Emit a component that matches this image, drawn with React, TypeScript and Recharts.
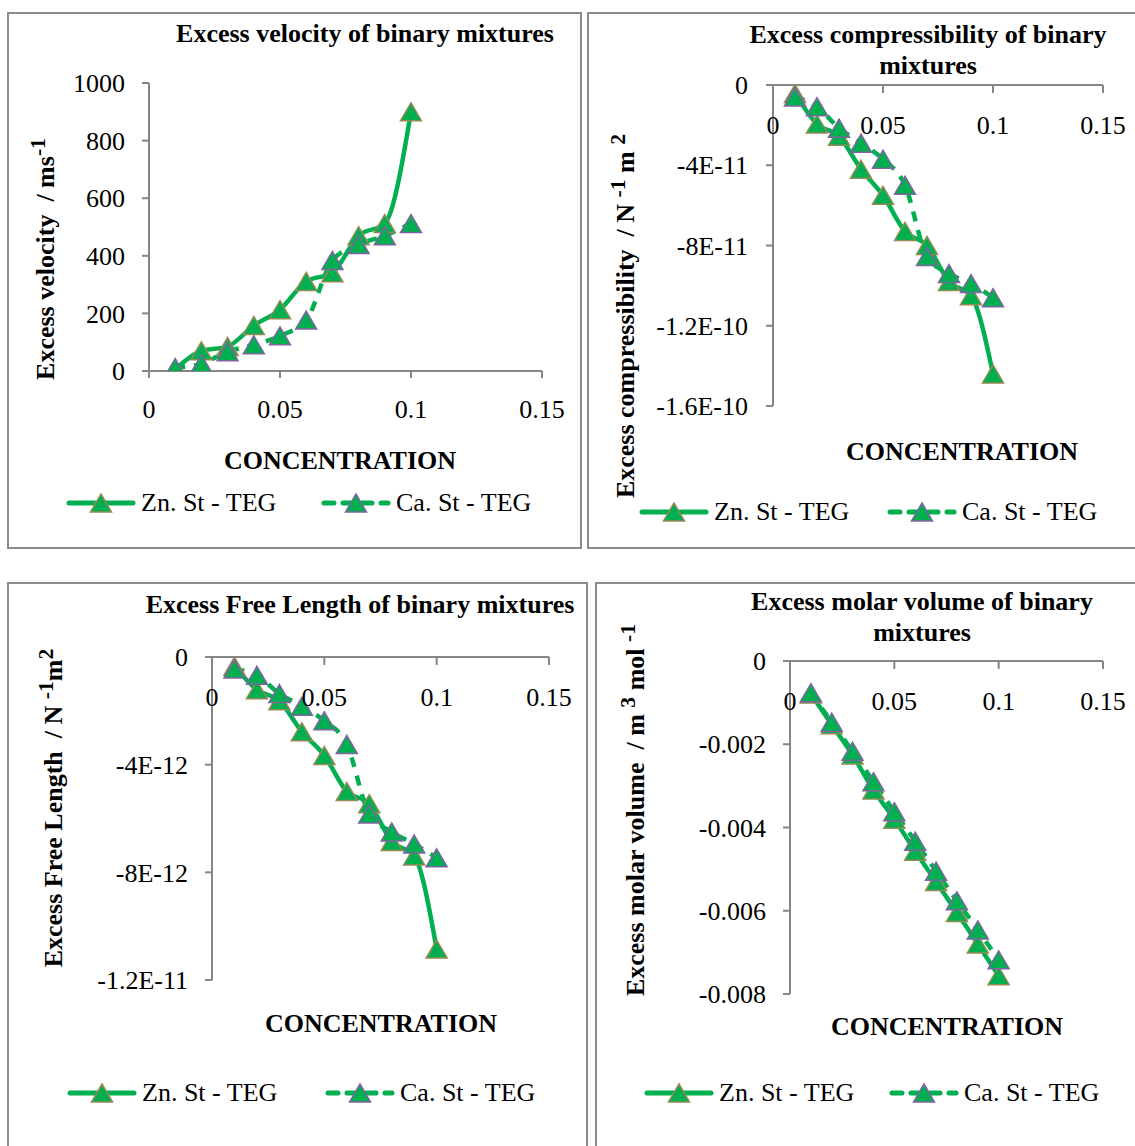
import React from 'react';
import { LineChart, Line, XAxis, YAxis } from 'recharts';

// concentration (x) shared by every panel
const concentration = [0.01, 0.02, 0.03, 0.04, 0.05, 0.06, 0.07, 0.08, 0.09, 0.1];

// excess velocity / ms-1
const velocityZn = [6, 70, 85, 158, 213, 311, 341, 470, 512, 900];
const velocityCa = [12, 25, 67, 91, 122, 177, 384, 439, 470, 512];

// excess compressibility / N-1 m2
const compressZn = [-0.42e-11, -1.95e-11, -2.55e-11, -4.2e-11, -5.5e-11, -7.3e-11, -8.0e-11, -9.8e-11, -10.5e-11, -14.4e-11];
const compressCa = [-0.6e-11, -1.08e-11, -2.15e-11, -2.9e-11, -3.7e-11, -5.0e-11, -8.55e-11, -9.4e-11, -9.9e-11, -10.6e-11];

// excess free length / N-1 m2
const freeLengthZn = [-0.34e-12, -1.22e-12, -1.63e-12, -2.78e-12, -3.66e-12, -5.0e-12, -5.45e-12, -6.85e-12, -7.39e-12, -10.85e-12];
const freeLengthCa = [-0.45e-12, -0.68e-12, -1.36e-12, -1.83e-12, -2.37e-12, -3.25e-12, -5.83e-12, -6.5e-12, -6.95e-12, -7.46e-12];

// excess molar volume / m3 mol-1
const molarZn = [-0.00079, -0.00153, -0.00226, -0.0031, -0.0038, -0.00457, -0.0053, -0.00604, -0.0068, -0.00756];
const molarCa = [-0.00076, -0.00147, -0.00217, -0.0029, -0.00362, -0.00433, -0.00505, -0.00576, -0.00646, -0.00718];

const xTicks = [0, 0.05, 0.1, 0.15];
const xTickLabels = ['0', '0.05', '0.1', '0.15'];

const velocityTicks = [0, 200, 400, 600, 800, 1000];
const velocityTickLabels = ['0', '200', '400', '600', '800', '1000'];
const compressTicks = [0, -4e-11, -8e-11, -1.2e-10, -1.6e-10];
const compressTickLabels = ['0', '-4E-11', '-8E-11', '-1.2E-10', '-1.6E-10'];
const freeLengthTicks = [0, -4e-12, -8e-12, -1.2e-11];
const freeLengthTickLabels = ['0', '-4E-12', '-8E-12', '-1.2E-11'];
const molarTicks = [0, -0.002, -0.004, -0.006, -0.008];
const molarTickLabels = ['0', '-0.002', '-0.004', '-0.006', '-0.008'];

const seriesNames = ['Zn. St - TEG', 'Ca. St - TEG'];

const GREEN = '#00B050';
const ZN_EDGE = '#948A54';
const CA_EDGE = '#8064A2';
const AXIS = '#868686';
const FRAME = '#8c8c8c';
const FONT = "'Liberation Serif', 'Times New Roman', serif";
const DASH = '10 9';

const Triangle = ({ cx, cy, stroke }: { cx: number; cy: number; stroke: string }) => (
  <polygon
    points={`${cx},${cy - 9} ${cx + 10.5},${cy + 9} ${cx - 10.5},${cy + 9}`}
    fill={GREEN}
    stroke={stroke}
    strokeWidth={1.5}
  />
);

const labelFor = (ticks: number[], labels: string[]) => (v: number) => {
  const i = ticks.findIndex(t => Math.abs(t - v) <= Math.abs(v) * 1e-6 + 1e-20);
  return i >= 0 ? labels[i] : String(v);
};

// x tick drawn under an axis sitting at the top of the plot
const TopTick = (props: any) => {
  const { x, y, payload } = props;
  return (
    <g>
      <line x1={x} x2={x} y1={y} y2={y + 8} stroke={AXIS} strokeWidth={2} />
      <text x={x} y={y + 40} textAnchor="middle" dominantBaseline="central" fill="#000" fontSize={26} fontFamily={FONT}>
        {labelFor(xTicks, xTickLabels)(payload.value)}
      </text>
    </g>
  );
};

const Centered = ({ x, y, children, bold, rotate }: any) => (
  <div
    style={{
      position: 'absolute',
      left: x,
      top: y,
      transform: `translate(-50%, -50%)${rotate ? ' rotate(-90deg)' : ''}`,
      whiteSpace: 'nowrap',
      fontSize: 26,
      lineHeight: '31px',
      fontWeight: bold ? 'bold' : 'normal',
      textAlign: 'center',
      color: '#000',
    }}
  >
    {children}
  </div>
);

const Swatch = ({ x, y, dashed, edge }: { x: number; y: number; dashed: boolean; edge: string }) => (
  <svg style={{ position: 'absolute', left: x, top: y - 12 }} width={70} height={24}>
    <line x1={3} x2={67} y1={12} y2={12} stroke={GREEN} strokeWidth={5} strokeLinecap="round" strokeDasharray={dashed ? DASH : undefined} />
    <Triangle cx={35} cy={12} stroke={edge} />
  </svg>
);

const LegendRow = ({ x1, x2, y }: { x1: number; x2: number; y: number }) => (
  <>
    <Swatch x={x1} y={y} dashed={false} edge={ZN_EDGE} />
    <div style={{ position: 'absolute', left: x1 + 75, top: y - 16, fontSize: 26, lineHeight: '31px', whiteSpace: 'nowrap' }}>{seriesNames[0]}</div>
    <Swatch x={x2} y={y} dashed={true} edge={CA_EDGE} />
    <div style={{ position: 'absolute', left: x2 + 75, top: y - 16, fontSize: 26, lineHeight: '31px', whiteSpace: 'nowrap' }}>{seriesNames[1]}</div>
  </>
);

type PanelProps = {
  frame: [number, number, number, number];
  margin: { top: number; right: number; bottom: number; left: number };
  yWidth: number;
  xTop: boolean;
  zn: number[];
  ca: number[];
  yTicks: number[];
  yTickLabels: string[];
  yDomain: [number, number];
  yTickMargin: number;
};

const Panel = ({ frame, margin, yWidth, xTop, zn, ca, yTicks, yTickLabels, yDomain, yTickMargin }: PanelProps) => {
  const [left, top, width, height] = frame;
  const data = concentration.map((c, i) => ({ c, zn: zn[i], ca: ca[i] }));
  return (
    <>
      <div
        style={{
          position: 'absolute',
          left,
          top,
          width,
          height,
          boxSizing: 'border-box',
          border: `2px solid ${FRAME}`,
        }}
      />
      <div style={{ position: 'absolute', left, top }}>
        <LineChart width={width} height={height} data={data} margin={margin}>
          {xTop ? (
            <XAxis
              dataKey="c"
              type="number"
              orientation="top"
              domain={[0, 0.15]}
              ticks={xTicks}
              height={20}
              stroke={AXIS}
              strokeWidth={2}
              tickLine={false}
              tickSize={0}
              tickMargin={0}
              tick={<TopTick />}
              interval={0}
            />
          ) : (
            <XAxis
              dataKey="c"
              type="number"
              domain={[0, 0.15]}
              ticks={xTicks}
              height={60}
              stroke={AXIS}
              strokeWidth={2}
              tickSize={7}
              tickMargin={22}
              tick={{ fill: '#000', fontSize: 26, fontFamily: FONT }}
              tickFormatter={labelFor(xTicks, xTickLabels)}
              interval={0}
            />
          )}
          <YAxis
            type="number"
            domain={yDomain}
            ticks={yTicks}
            width={yWidth}
            stroke={AXIS}
            strokeWidth={2}
            tickSize={7}
            tickMargin={yTickMargin}
            tick={{ fill: '#000', fontSize: 26, fontFamily: FONT }}
            tickFormatter={labelFor(yTicks, yTickLabels)}
            interval={0}
            allowDataOverflow
          />
          <Line
            dataKey="zn"
            type="monotone"
            stroke={GREEN}
            strokeWidth={4.5}
            isAnimationActive={false}
            dot={(p: any) => <Triangle key={`zn-${p.index}`} cx={p.cx} cy={p.cy} stroke={ZN_EDGE} />}
            activeDot={false}
          />
          <Line
            dataKey="ca"
            type="monotone"
            stroke={GREEN}
            strokeWidth={4.5}
            strokeDasharray={DASH}
            isAnimationActive={false}
            dot={(p: any) => <Triangle key={`ca-${p.index}`} cx={p.cx} cy={p.cy} stroke={CA_EDGE} />}
            activeDot={false}
          />
        </LineChart>
      </div>
    </>
  );
};

export default function App() {
  return (
    <div
      style={{
        position: 'absolute',
        left: 0,
        top: 0,
        width: 1135,
        height: 1146,
        overflow: 'hidden',
        background: '#fff',
        fontFamily: FONT,
      }}
    >
      {/* top left: excess velocity */}
      <Panel
        frame={[7, 12, 575, 537]}
        margin={{ top: 71, right: 40, bottom: 118, left: 42 }}
        yWidth={100}
        xTop={false}
        zn={velocityZn}
        ca={velocityCa}
        yTicks={velocityTicks}
        yTickLabels={velocityTickLabels}
        yDomain={[0, 1000]}
        yTickMargin={17}
      />
      <Centered x={365} y={33} bold>Excess velocity of binary mixtures</Centered>
      <Centered x={42} y={259} bold rotate>
        Excess velocity&nbsp; / ms<sup>-1</sup>
      </Centered>
      <Centered x={340} y={460} bold>CONCENTRATION</Centered>
      <LegendRow x1={66} x2={321} y={503} />

      {/* top right: excess compressibility */}
      <Panel
        frame={[587, 12, 560, 537]}
        margin={{ top: 53, right: 44, bottom: 143, left: 76 }}
        yWidth={110}
        xTop={true}
        zn={compressZn}
        ca={compressCa}
        yTicks={compressTicks}
        yTickLabels={compressTickLabels}
        yDomain={[-1.6e-10, 0]}
        yTickMargin={18}
      />
      <Centered x={928} y={50} bold>
        Excess compressibility of binary
        <br />
        mixtures
      </Centered>
      <Centered x={622} y={316} bold rotate>
        Excess compressibility&nbsp; / N <sup>-1</sup> m <sup>2</sup>
      </Centered>
      <Centered x={962} y={451} bold>CONCENTRATION</Centered>
      <LegendRow x1={639} x2={887} y={512} />

      {/* bottom left: excess free length */}
      <Panel
        frame={[7, 582, 581, 600]}
        margin={{ top: 55, right: 39, bottom: 202, left: 95 }}
        yWidth={110}
        xTop={true}
        zn={freeLengthZn}
        ca={freeLengthCa}
        yTicks={freeLengthTicks}
        yTickLabels={freeLengthTickLabels}
        yDomain={[-1.2e-11, 0]}
        yTickMargin={17}
      />
      <Centered x={360} y={604} bold>Excess Free Length of binary mixtures</Centered>
      <Centered x={50} y={808} bold rotate>
        Excess Free Length&nbsp; / N <sup>-1</sup>m<sup>2</sup>
      </Centered>
      <Centered x={381} y={1023} bold>CONCENTRATION</Centered>
      <LegendRow x1={67} x2={325} y={1093} />

      {/* bottom right: excess molar volume */}
      <Panel
        frame={[595, 582, 560, 600]}
        margin={{ top: 59, right: 52, bottom: 188, left: 95 }}
        yWidth={100}
        xTop={true}
        zn={molarZn}
        ca={molarCa}
        yTicks={molarTicks}
        yTickLabels={molarTickLabels}
        yDomain={[-0.008, 0]}
        yTickMargin={17}
      />
      <Centered x={922} y={617} bold>
        Excess molar volume of binary
        <br />
        mixtures
      </Centered>
      <Centered x={632} y={810} bold rotate>
        Excess molar volume&nbsp; / m <sup>3</sup> mol <sup>-1</sup>
      </Centered>
      <Centered x={947} y={1026} bold>CONCENTRATION</Centered>
      <LegendRow x1={644} x2={889} y={1093} />
    </div>
  );
}
